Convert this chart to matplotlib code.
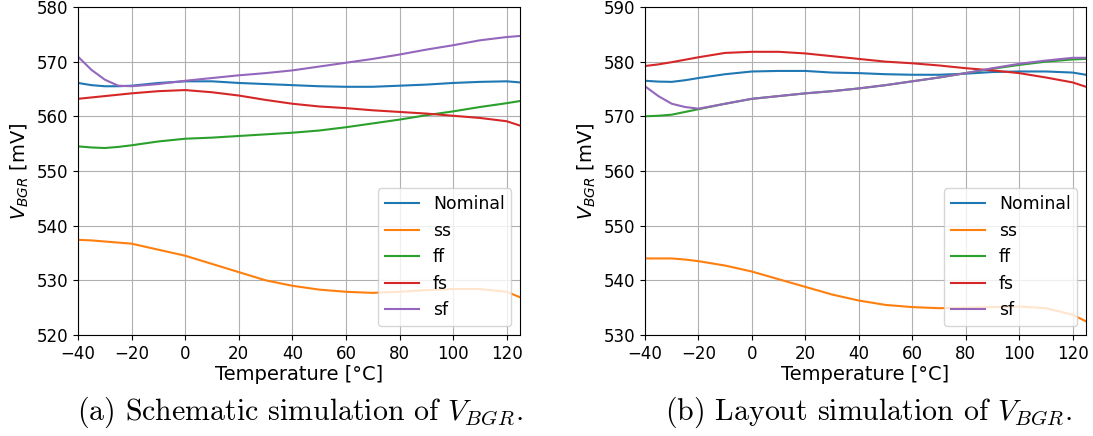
import numpy as np
import matplotlib
matplotlib.use("Agg")
import matplotlib.pyplot as plt

plt.rcParams['font.size'] = 12

# temperature sweep points [degC]
temp = [-40, -35, -30, -25, -20, -10, 0, 10, 20, 30, 40, 50, 60, 70, 80, 90, 100, 110, 120, 125]
corners = ["Nominal", "ss", "ff", "fs", "sf"]

# (a) schematic simulation, V_BGR in mV
sch_nom = [566.1, 565.7, 565.5, 565.5, 565.6, 566.1, 566.4, 566.4, 566.1, 565.9, 565.7, 565.5,
           565.4, 565.4, 565.6, 565.8, 566.1, 566.3, 566.4, 566.2]
sch_ss = [537.4, 537.3, 537.1, 536.9, 536.7, 535.6, 534.5, 533.0, 531.5, 530.0, 529.0, 528.3,
          527.9, 527.7, 527.9, 528.2, 528.4, 528.4, 527.9, 526.9]
sch_ff = [554.5, 554.3, 554.2, 554.4, 554.7, 555.4, 555.9, 556.1, 556.4, 556.7, 557.0, 557.4,
          558.0, 558.7, 559.4, 560.2, 560.9, 561.7, 562.4, 562.8]
sch_fs = [563.2, 563.45, 563.7, 563.95, 564.2, 564.6, 564.8, 564.4, 563.8, 563.0, 562.3, 561.8,
          561.5, 561.1, 560.8, 560.5, 560.1, 559.7, 559.1, 558.3]
sch_sf = [570.9, 568.5, 566.7, 565.6, 565.5, 565.9, 566.5, 567.0, 567.5, 567.9, 568.4, 569.1,
          569.8, 570.5, 571.3, 572.2, 573.0, 573.9, 574.5, 574.7]

# (b) layout simulation, V_BGR in mV
lay_nom = [576.5, 576.35, 576.3, 576.6, 577.0, 577.7, 578.2, 578.3, 578.3, 578.0, 577.9, 577.7,
           577.6, 577.6, 577.8, 578.1, 578.2, 578.2, 578.0, 577.6]
lay_ss = [544.0, 544.0, 544.0, 543.8, 543.5, 542.7, 541.6, 540.2, 538.8, 537.4, 536.3, 535.5,
          535.1, 534.9, 535.0, 535.1, 535.2, 534.9, 533.7, 532.5]
lay_ff = [570.0, 570.1, 570.3, 570.8, 571.3, 572.3, 573.2, 573.7, 574.2, 574.6, 575.1, 575.7,
          576.4, 577.1, 577.9, 578.7, 579.4, 580.0, 580.4, 580.5]
lay_fs = [579.2, 579.5, 579.9, 580.35, 580.8, 581.6, 581.8, 581.8, 581.5, 581.0, 580.5, 580.0,
          579.7, 579.3, 578.8, 578.4, 577.9, 577.1, 576.2, 575.4]
lay_sf = [575.5, 573.7, 572.3, 571.7, 571.4, 572.3, 573.2, 573.7, 574.2, 574.6, 575.1, 575.7,
          576.4, 577.1, 577.9, 578.8, 579.6, 580.2, 580.7, 580.7]

fig = plt.figure(figsize=(10.93, 4.36), dpi=100)
ax1 = fig.add_axes([0.0714, 0.2317, 0.4044, 0.7523])
ax2 = fig.add_axes([0.5901, 0.2317, 0.4035, 0.7523])

panels = [
    (ax1, [sch_nom, sch_ss, sch_ff, sch_fs, sch_sf], (520, 580)),
    (ax2, [lay_nom, lay_ss, lay_ff, lay_fs, lay_sf], (530, 590)),
]

for ax, series, ylim in panels:
    for name, vals in zip(corners, series):
        ax.plot(temp, vals, label=name)
    ax.set_xlim(-40, 125)
    ax.set_ylim(*ylim)
    ax.set_xticks(np.arange(-40, 121, 20))
    ax.grid(True)
    ax.set_xlabel("Temperature [°C]", fontsize=14, labelpad=2)
    ax.set_ylabel("$V_{BGR}$ [mV]", fontsize=14)
    ax.legend(loc="lower right", fontsize=12.4)

# LaTeX-style subfigure captions
fig.text(0.274, 0.055, "(a) Schematic simulation of $V_{BGR}$.", ha="center", va="center",
         fontsize=21.5, fontfamily="cmr10", math_fontfamily="cm")
fig.text(0.795, 0.055, "(b) Layout simulation of $V_{BGR}$.", ha="center", va="center",
         fontsize=21.5, fontfamily="cmr10", math_fontfamily="cm")

fig.savefig("out.png", dpi=100)
